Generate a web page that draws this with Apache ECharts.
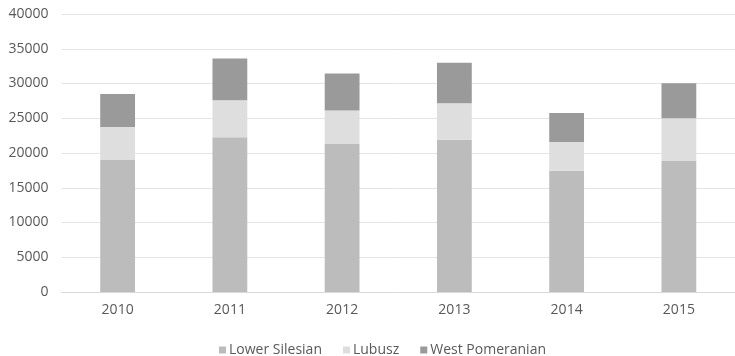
<!DOCTYPE html>
<html>
<head>
<meta charset="utf-8">
<script src="https://cdn.jsdelivr.net/npm/echarts@6/dist/echarts.min.js"></script>
<style>
  html, body { margin: 0; padding: 0; background: #fff; }
  #chart { width: 735px; height: 356px; }
</style>
</head>
<body>
<div id="chart"></div>
<script>
// Years along the x axis
const years = ['2010', '2011', '2012', '2013', '2014', '2015'];

// Stacked values per voivodeship
const lowerSilesian = [19000, 22250, 21300, 21900, 17450, 18850];
const lubusz = [4750, 5350, 4800, 5250, 4150, 6150];
const westPomeranian = [4750, 6000, 5350, 5850, 4150, 5050];

const seriesNames = ['Lower Silesian', 'Lubusz', 'West Pomeranian'];
const seriesColors = ['#bcbcbc', '#dedede', '#9a9a9a'];
const seriesData = [lowerSilesian, lubusz, westPomeranian];

const textColor = '#595959';
const fontFamily = '"Open Sans", sans-serif';

const chart = echarts.init(document.getElementById('chart'), null, { renderer: 'canvas' });

chart.setOption({
  animation: false,
  backgroundColor: '#ffffff',
  textStyle: { fontFamily: fontFamily, color: textColor },
  grid: { left: 61.5, top: 14, width: 681, height: 278, containLabel: false },
  legend: {
    top: 338,
    left: 214,
    itemWidth: 7,
    itemHeight: 7,
    itemGap: 21,
    icon: 'rect',
    textStyle: { fontSize: 14, color: textColor, fontFamily: fontFamily, padding: [8, 0, 0, -2] },
    data: seriesNames
  },
  xAxis: {
    type: 'category',
    data: years,
    axisLine: { show: true, lineStyle: { color: '#d9d9d9', width: 1 } },
    axisTick: { show: false },
    axisLabel: { fontSize: 14, color: textColor, margin: 11, fontFamily: fontFamily }
  },
  yAxis: {
    type: 'value',
    min: 0,
    max: 40000,
    interval: 5000,
    axisLine: { show: false },
    axisTick: { show: false },
    axisLabel: {
      fontSize: 14,
      color: textColor,
      margin: 13,
      fontFamily: fontFamily,
      formatter: (v) => String(v)
    },
    splitLine: { lineStyle: { color: '#e4e4e4', width: 1 } }
  },
  series: seriesNames.map((name, i) => ({
    name: name,
    type: 'bar',
    stack: 'total',
    barWidth: '31%',
    data: seriesData[i],
    itemStyle: { color: seriesColors[i] }
  }))
});
</script>
</body>
</html>
